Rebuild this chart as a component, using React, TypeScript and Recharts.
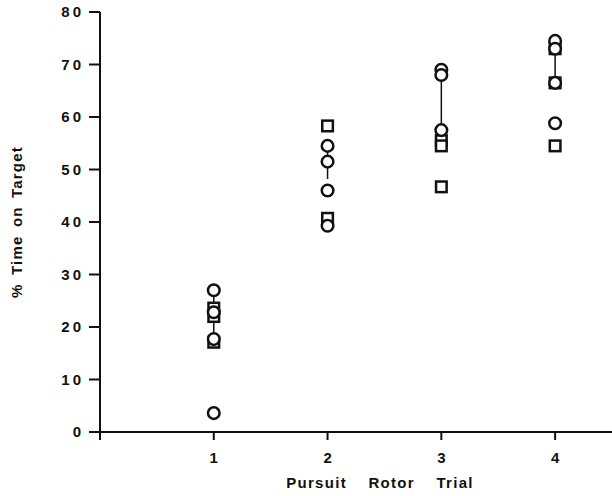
import React from "react";
import { ScatterChart, Scatter, XAxis, YAxis, ErrorBar } from "recharts";

// circles and squares, by trial
const circleTrial = [1, 1, 1, 1, 2, 2, 2, 2, 3, 3, 3, 4, 4, 4, 4];
const circleValue = [27, 22.8, 17.7, 3.6, 54.5, 51.5, 46, 39.3, 69, 68, 57.5, 74.5, 73, 66.5, 58.8];
const squareTrial = [1, 1, 1, 2, 2, 3, 3, 3, 4, 4, 4];
const squareValue = [23.6, 22, 17.1, 58.3, 40.7, 55.5, 54.5, 46.7, 73, 66.5, 54.5];

// vertical range lines
const rangeTrial = [1, 2, 3, 4];
const rangeLow = [17.4, 48.2, 57.5, 66.5];
const rangeHigh = [27, 55.5, 69, 73];

const xTicks = [0, 1, 2, 3, 4];
const yTicks = [0, 10, 20, 30, 40, 50, 60, 70, 80];

const circles = circleTrial.map((x, i) => ({ x, y: circleValue[i] }));
const squares = squareTrial.map((x, i) => ({ x, y: squareValue[i] }));
const ranges = rangeTrial.map((x, i) => ({
  x,
  y: (rangeLow[i] + rangeHigh[i]) / 2,
  err: (rangeHigh[i] - rangeLow[i]) / 2,
}));

const font = "'Liberation Sans', Arial, sans-serif";
const ink = "#111";

const Circle = (p: any) => (
  <circle cx={p.cx} cy={p.cy} r={5.8} fill="#fff" stroke={ink} strokeWidth={2.5} />
);
const Square = (p: any) => (
  <rect x={p.cx - 5.3} y={p.cy - 5.3} width={10.6} height={10.6} fill="#fff" stroke={ink} strokeWidth={2.5} />
);
const Nothing = () => <g />;

export default function App() {
  return (
    <div style={{ position: "absolute", left: 0, top: 0, background: "#fff" }}>
      <ScatterChart width={612} height={496} margin={{ top: 12, right: 0, bottom: 0, left: 0 }}>
        <XAxis
          type="number"
          dataKey="x"
          domain={[0, 4.5]}
          ticks={xTicks}
          tickFormatter={(v) => (v === 0 ? "" : String(v))}
          height={64}
          tickSize={8}
          tickMargin={12}
          axisLine={{ stroke: ink, strokeWidth: 2 }}
          tickLine={{ stroke: ink, strokeWidth: 2 }}
          tick={{ fill: ink, fontFamily: font, fontSize: 15, fontWeight: "bold" }}
          label={{
            content: ({ viewBox }: any) => (
              <text
                x={viewBox.x + 280}
                y={viewBox.y + 56}
                textAnchor="middle"
                fill={ink}
                fontFamily={font}
                fontSize={15}
                fontWeight="bold"
                letterSpacing={1.3}
                wordSpacing={16}
              >
                Pursuit Rotor Trial
              </text>
            ),
          }}
        />
        <YAxis
          type="number"
          dataKey="y"
          domain={[0, 80]}
          ticks={yTicks}
          width={100}
          tickSize={11}
          tickMargin={5}
          axisLine={{ stroke: ink, strokeWidth: 2 }}
          tickLine={{ stroke: ink, strokeWidth: 2 }}
          tick={{ fill: ink, fontFamily: font, fontSize: 15, fontWeight: "bold", letterSpacing: 3 }}
          label={{
            content: ({ viewBox }: any) => {
              const cx = viewBox.x + 22;
              const cy = viewBox.y + viewBox.height / 2;
              return (
                <text
                  x={cx}
                  y={cy}
                  transform={`rotate(-90 ${cx} ${cy})`}
                  textAnchor="middle"
                  fill={ink}
                  fontFamily={font}
                  fontSize={15}
                  fontWeight="bold"
                  letterSpacing={1.2}
                  wordSpacing={3}
                >
                  % Time on Target
                </text>
              );
            },
          }}
        />
        <Scatter data={ranges} shape={Nothing} isAnimationActive={false}>
          <ErrorBar dataKey="err" direction="y" width={0} stroke={ink} strokeWidth={1.5} />
        </Scatter>
        <Scatter data={squares} shape={Square} isAnimationActive={false} />
        <Scatter data={circles} shape={Circle} isAnimationActive={false} />
      </ScatterChart>
    </div>
  );
}
